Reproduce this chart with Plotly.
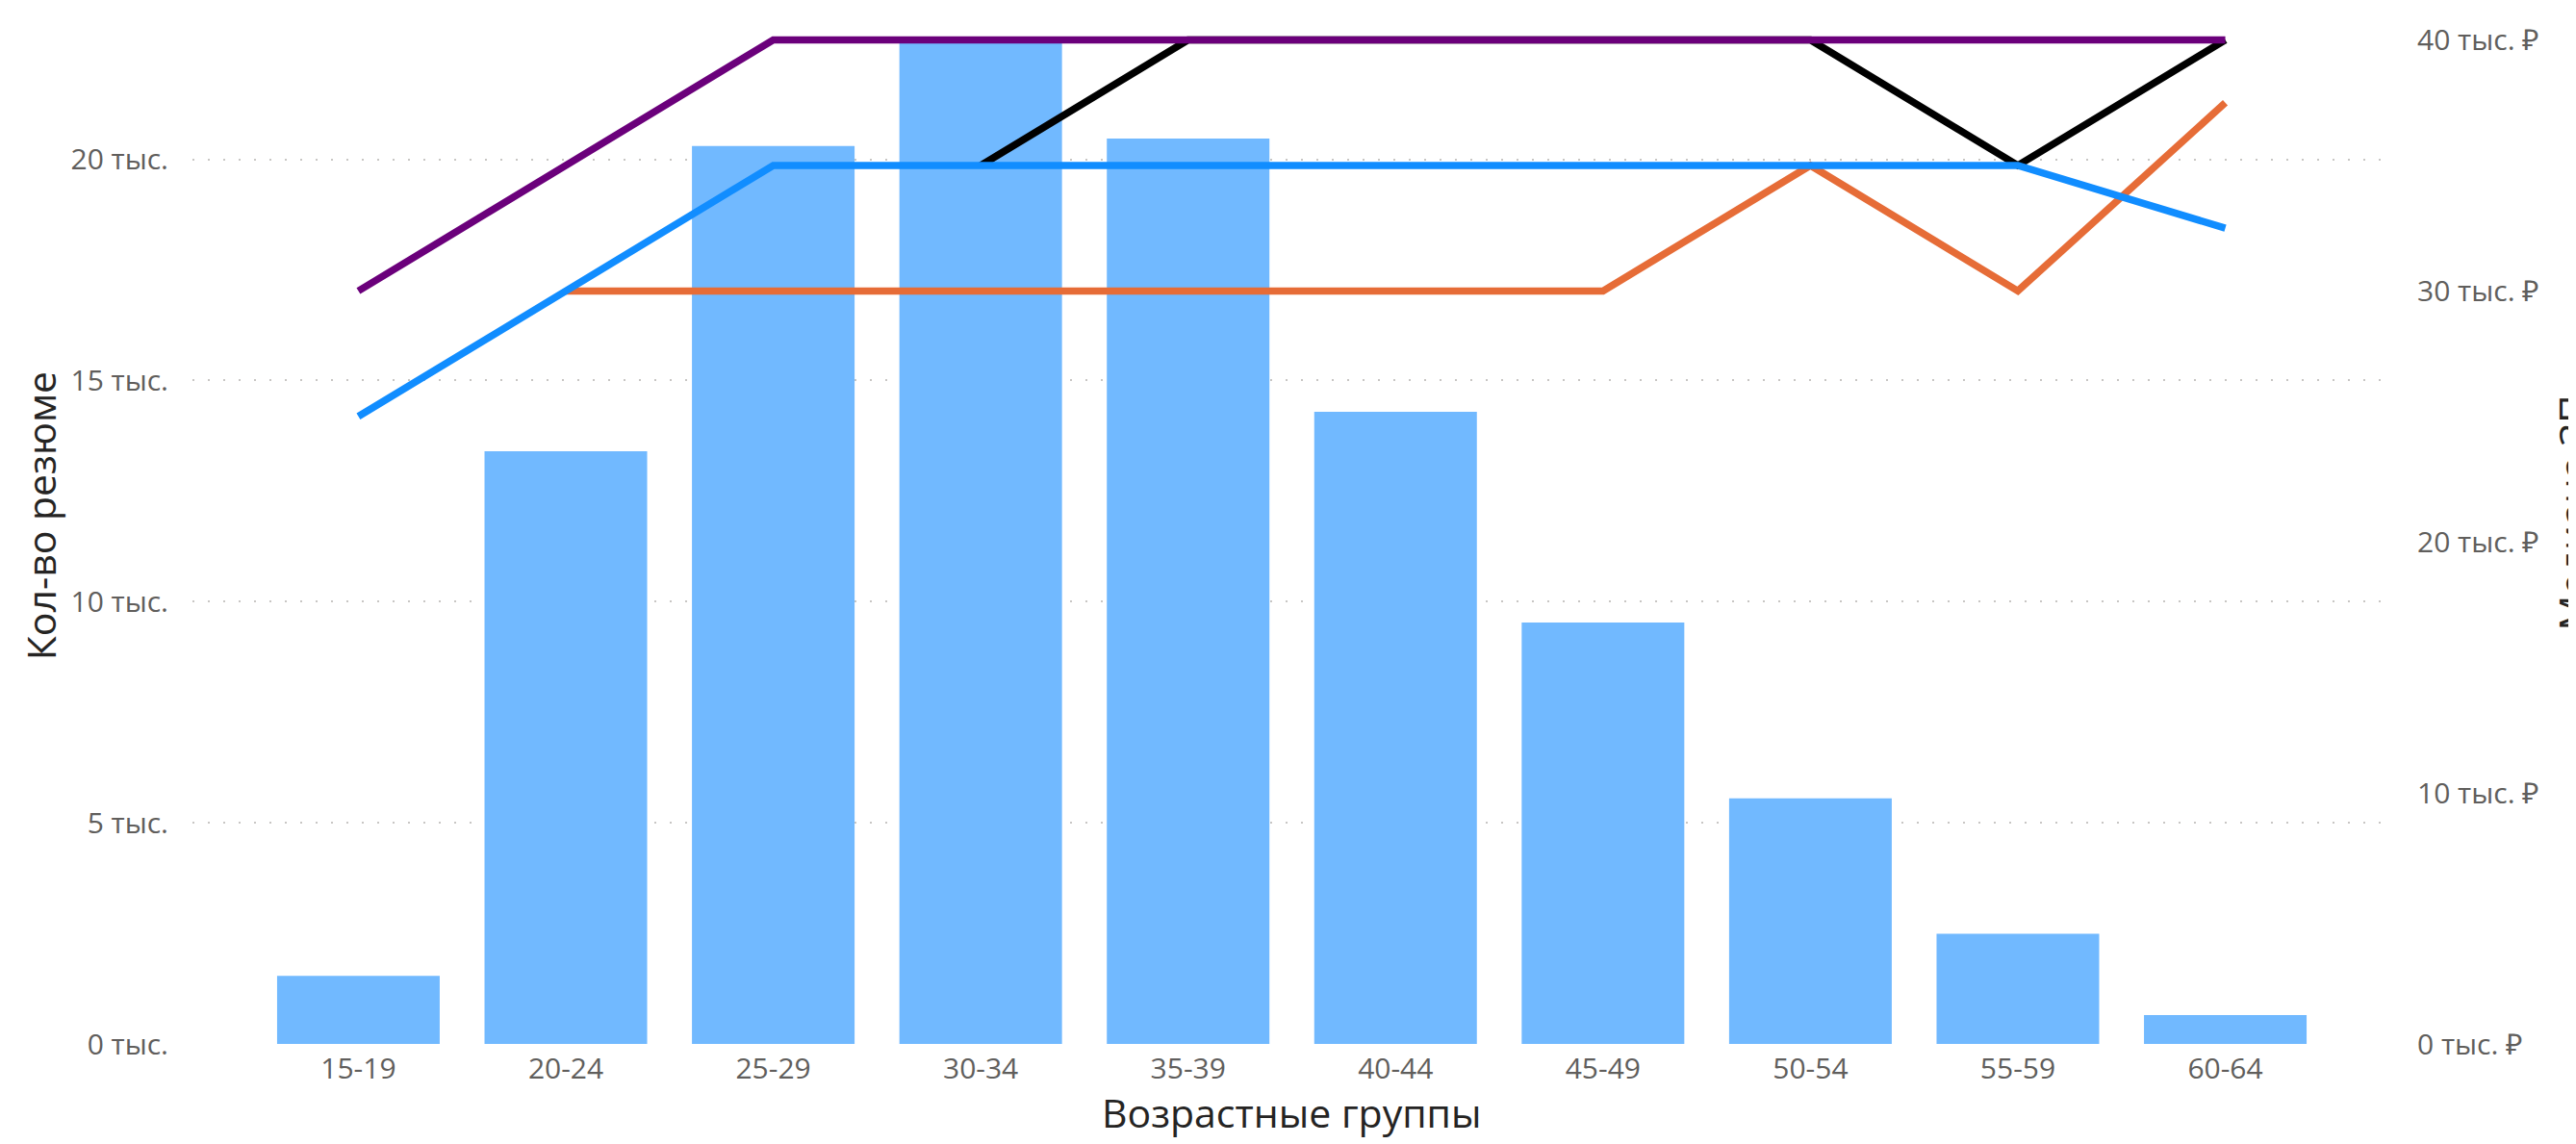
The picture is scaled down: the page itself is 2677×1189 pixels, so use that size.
import plotly.graph_objects as go

# ---- data ----
age_groups = ["15-19", "20-24", "25-29", "30-34", "35-39", "40-44", "45-49", "50-54", "55-59", "60-64"]
resume_counts = [1540, 13400, 20300, 22700, 20470, 14290, 9530, 5550, 2490, 650]

median_orange = [None, 30000, 30000, 30000, 30000, 30000, 30000, 35000, 30000, 37500]
median_black = [None, None, None, 35000, 40000, 40000, 40000, 40000, 35000, 40000]
median_blue = [25000, 30000, 35000, 35000, 35000, 35000, 35000, 35000, 35000, 32500]
median_purple = [30000, 35000, 40000, 40000, 40000, 40000, 40000, 40000, 40000, 40000]

left_tick_vals = [0, 5000, 10000, 15000, 20000]
left_tick_text = ["0 тыс.", "5 тыс.", "10 тыс.", "15 тыс.", "20 тыс."]
right_tick_vals = [0, 10000, 20000, 30000, 40000]
right_tick_text = ["0 тыс. ₽", "10 тыс. ₽", "20 тыс. ₽", "30 тыс. ₽", "40 тыс. ₽"]

FONT = "Open Sans"
TICK_COLOR = "#605E5C"
TITLE_COLOR = "#252423"
TICK_SIZE = 30
TITLE_SIZE = 41

fig = go.Figure()
fig.add_trace(go.Bar(
    x=age_groups, y=resume_counts, name="Кол-во резюме",
    marker=dict(color="#71B9FF", line=dict(width=0)), yaxis="y",
))

line_series = [
    ("Серия 1", median_orange, "#E66C37"),
    ("Серия 2", median_black, "#000000"),
    ("Серия 3", median_blue, "#118DFF"),
    ("Серия 4", median_purple, "#6B007B"),
]
for name, vals, color in line_series:
    fig.add_trace(go.Scatter(
        x=age_groups, y=vals, name=name, mode="lines", yaxis="y2",
        line=dict(color=color, width=7.5), connectgaps=False,
    ))

fig.update_layout(
    width=2669, height=1181, autosize=False,
    margin=dict(l=192, r=192, t=18, b=104, pad=0),
    plot_bgcolor="white", paper_bgcolor="white",
    showlegend=False, bargap=0.216,
    font=dict(family=FONT, color=TICK_COLOR, size=TICK_SIZE),
    xaxis=dict(
        type="category", range=[-0.8, 9.8], showgrid=False, zeroline=False,
        showline=False, ticks="", tickfont=dict(size=TICK_SIZE, color=TICK_COLOR),
        ticklabelstandoff=5,
    ),
    yaxis=dict(
        range=[0, 22840], tickvals=left_tick_vals, ticktext=left_tick_text,
        showgrid=True, gridcolor="#C8C6C4", gridwidth=2, griddash="2px,14px",
        zeroline=False, showline=False, ticks="",
        tickfont=dict(size=TICK_SIZE, color=TICK_COLOR), ticklabelstandoff=24,
    ),
    yaxis2=dict(
        range=[0, 40250], tickvals=right_tick_vals, ticktext=right_tick_text,
        overlaying="y", side="right", showgrid=False, zeroline=False,
        showline=False, ticks="", tickfont=dict(size=TICK_SIZE, color=TICK_COLOR),
        ticklabelstandoff=26,
    ),
    annotations=[
        dict(text="Кол-во резюме", xref="paper", yref="paper", x=-0.069, y=0.523,
             xanchor="center", yanchor="middle", textangle=-90, showarrow=False,
             font=dict(family=FONT, size=TITLE_SIZE, color=TITLE_COLOR)),
        dict(text="Возрастные группы", xref="paper", yref="paper", x=0.5, y=-0.068,
             xanchor="center", yanchor="middle", showarrow=False,
             font=dict(family=FONT, size=TITLE_SIZE, color=TITLE_COLOR)),
        dict(text="Медиана ЗП", xref="paper", yref="paper", x=1.0822, y=0.526,
             xanchor="center", yanchor="middle", textangle=-90, showarrow=False,
             font=dict(family=FONT, size=TITLE_SIZE, color=TITLE_COLOR)),
    ],
)

fig.write_html("out.html")
